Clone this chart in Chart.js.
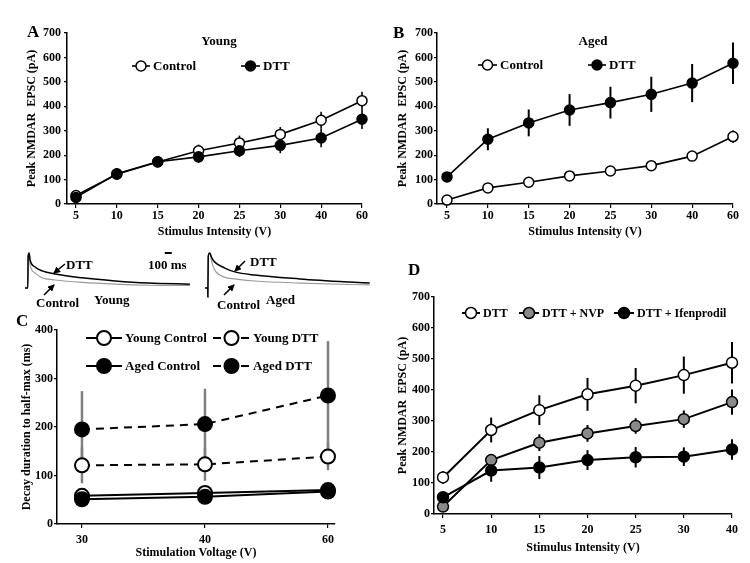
<!DOCTYPE html>
<html>
<head>
<meta charset="utf-8">
<title>NMDAR EPSC figure</title>
<script src="https://cdn.jsdelivr.net/npm/chart.js@4.4.1/dist/chart.umd.min.js"></script>
<style>
  html, body { margin: 0; padding: 0; background: #fff; }
  #fig { position: relative; width: 750px; height: 563px; overflow: hidden;
         font-family: "Liberation Serif", "Times New Roman", serif; font-weight: bold; color: #000; }
  #fig canvas { position: absolute; }
  #fig svg { position: absolute; left: 0; top: 0; }
  .lbl { position: absolute; white-space: nowrap; line-height: 1; transform: translateY(-50%); font-size: 13px; }
  .lbl.c { transform: translate(-50%, -50%); }
  .letter { font-size: 17px; }
</style>
</head>
<body>
<div id="fig">
  <canvas id="chartA" width="375" height="245" style="left:0;top:0"></canvas>
  <canvas id="chartB" width="375" height="245" style="left:375px;top:0"></canvas>
  <canvas id="traceYoung" width="180" height="60" style="left:20px;top:245px"></canvas>
  <canvas id="traceAged" width="180" height="60" style="left:200px;top:245px"></canvas>
  <canvas id="chartC" width="375" height="258" style="left:0;top:305px"></canvas>
  <canvas id="chartD" width="375" height="283" style="left:375px;top:280px"></canvas>

  <svg width="750" height="563">
    <defs>
      <marker id="ah" markerUnits="userSpaceOnUse" markerWidth="7" markerHeight="7" refX="6" refY="3.5" orient="auto">
        <path d="M0,0 L7,3.5 L0,7 z" fill="#000"/>
      </marker>
    </defs>
    <line x1="65" y1="264" x2="54" y2="273" stroke="#000" stroke-width="1.6" marker-end="url(#ah)"/>
    <line x1="44" y1="295" x2="54" y2="285" stroke="#000" stroke-width="1.6" marker-end="url(#ah)"/>
    <line x1="245" y1="261" x2="235" y2="271" stroke="#000" stroke-width="1.6" marker-end="url(#ah)"/>
    <line x1="224" y1="295" x2="234" y2="285" stroke="#000" stroke-width="1.6" marker-end="url(#ah)"/>
  </svg>

  <div class="lbl letter" style="left:27px;top:31px">A</div>
  <div class="lbl letter" style="left:393px;top:32px">B</div>
  <div class="lbl letter" style="left:16px;top:320px">C</div>
  <div class="lbl letter" style="left:408px;top:269px">D</div>
  <div class="lbl c" style="left:219px;top:40px">Young</div>
  <div class="lbl c" style="left:593px;top:40px">Aged</div>

  <div class="lbl" style="left:66px;top:264px">DTT</div>
  <div class="lbl" style="left:148px;top:264px">100 ms</div>
  <div class="lbl" style="left:36px;top:302px">Control</div>
  <div class="lbl" style="left:94px;top:299px">Young</div>
  <div class="lbl" style="left:250px;top:261px">DTT</div>
  <div class="lbl" style="left:217px;top:304px">Control</div>
  <div class="lbl" style="left:266px;top:299px">Aged</div>
</div>

<script>
// ---- data ----
const abLabels = ['5', '10', '15', '20', '25', '30', '40', '60'];

// A: young
const aControl = [35, 122, 172, 218, 250, 285, 343, 423];
const aControlErr = [10, 15, 20, 25, 30, 30, 35, 37];
const aDtt = [27, 124, 173, 193, 218, 240, 270, 347];
const aDttErr = [8, 15, 20, 25, 26, 32, 38, 40];

// B: aged
const bControl = [16, 66, 89, 115, 135, 157, 196, 276];
const bControlErr = [8, 8, 8, 8, 8, 10, 15, 25];
const bDtt = [111, 265, 332, 385, 415, 449, 495, 576];
const bDttErr = [20, 45, 55, 65, 65, 72, 78, 85];

// C: decay to half-max
const cLabels = ['30', '40', '60'];
const cYoungControl = [58, 64, 70];
const cYoungControlErr = [4, 4, 4];
const cAgedControl = [51, 56, 67];
const cAgedControlErr = [4, 4, 4];
const cYoungDtt = [121, 123, 139];
const cYoungDttErr = [37, 34, 28];
const cAgedDtt = [195, 206, 265];
const cAgedDttErr = [79, 73, 112];

// D: aged, DTT with antagonists
const dLabels = ['5', '10', '15', '20', '25', '30', '40'];
const dDtt = [118, 271, 335, 386, 414, 448, 488];
const dDttErr = [20, 40, 48, 53, 57, 60, 67];
const dNvp = [24, 174, 230, 260, 284, 306, 361];
const dNvpErr = [10, 15, 27, 27, 25, 28, 41];
const dIfen = [54, 140, 150, 174, 183, 185, 208];
const dIfenErr = [10, 36, 37, 32, 33, 30, 33];

// example traces (time in ms, current normalised to peak)
const youngTimes = [-40, 0, 5, 19, 33, 104, 204, 390, 778, 1250, 1720, 2320];
const youngDttTrace = [0, 0, 0.9, 1.0, 0.8, 0.6, 0.49, 0.4, 0.29, 0.2, 0.14, 0.11];
const youngControlTrace = [0, 0, 0.9, 1.0, 0.66, 0.43, 0.29, 0.23, 0.16, 0.11, 0.08, 0.07];
const agedTimes = [-40, 0, 1, 6, 29, 57, 100, 243, 386, 672, 1316, 2031, 2317];
const agedDttTrace = [0, 0, -0.26, 0.9, 1.0, 0.86, 0.74, 0.57, 0.46, 0.37, 0.26, 0.17, 0.14];
const agedControlTrace = [0, 0, -0.26, 0.9, 1.0, 0.74, 0.51, 0.31, 0.26, 0.2, 0.14, 0.1, 0.09];

const FONT = '"Liberation Serif", "Times New Roman", serif';
Chart.defaults.font.family = FONT;
Chart.defaults.font.weight = 'bold';
Chart.defaults.color = '#000';
Chart.defaults.animation = false;
Chart.defaults.plugins.legend.display = false;
Chart.defaults.plugins.tooltip.enabled = false;

// vertical error bars, drawn under the lines and markers
const errorBars = {
    id: 'errorBars',
    beforeDatasetsDraw(chart) {
        const { ctx, scales: { x, y } } = chart;
        chart.data.datasets.forEach(ds => {
            if (!ds.errors) return;
            ctx.save();
            ctx.strokeStyle = ds.errorColor;
            ctx.lineWidth = ds.errorWidth;
            ds.data.forEach((p, j) => {
                const px = x.getPixelForValue(p.x);
                ctx.beginPath();
                ctx.moveTo(px, y.getPixelForValue(p.y - ds.errors[j]));
                ctx.lineTo(px, y.getPixelForValue(p.y + ds.errors[j]));
                ctx.stroke();
            });
            ctx.restore();
        });
    }
};

// legend entries drawn as "-o- label", using each dataset's own styles
function legendFor(items, fontSize) {
    return {
        id: 'panelLegend',
        afterDraw(chart) {
            const ctx = chart.ctx;
            ctx.save();
            items.forEach(it => {
                const ds = chart.data.datasets[it.index];
                ctx.strokeStyle = ds.borderColor;
                ctx.lineWidth = ds.borderWidth;
                ctx.setLineDash(ds.borderDash || []);
                ctx.beginPath();
                ctx.moveTo(it.x0, it.y);
                ctx.lineTo(it.x1, it.y);
                ctx.stroke();
                ctx.setLineDash([]);
                ctx.beginPath();
                ctx.arc((it.x0 + it.x1) / 2, it.y, ds.pointRadius, 0, Math.PI * 2);
                ctx.fillStyle = ds.pointBackgroundColor;
                ctx.fill();
                ctx.lineWidth = ds.pointBorderWidth;
                ctx.strokeStyle = ds.pointBorderColor;
                ctx.stroke();
                ctx.fillStyle = '#000';
                ctx.font = 'bold ' + fontSize + 'px ' + FONT;
                ctx.textBaseline = 'middle';
                ctx.fillText(ds.label, it.x1 + 3, it.y + 1);
            });
            ctx.restore();
        }
    };
}

function series(label, values, errors, fill, extra) {
    return Object.assign({
        label,
        data: values.map((v, i) => ({ x: i, y: v })),
        errors,
        errorColor: '#000',
        errorWidth: 1.6,
        borderColor: '#000',
        borderWidth: 1.6,
        pointRadius: 5,
        pointHoverRadius: 5,
        pointBackgroundColor: fill,
        pointBorderColor: '#000',
        pointBorderWidth: 1.5,
        tension: 0,
        clip: false
    }, extra || {});
}

function buildScales(ax) {
    return {
        x: {
            type: 'linear',
            min: ax.xMin,
            max: ax.xMax,
            afterBuildTicks: s => { s.ticks = ax.labels.map((_, i) => ({ value: i })); },
            afterFit: s => { s.height = ax.xh; },
            grid: { display: true, drawOnChartArea: false, drawTicks: true, tickLength: 4, color: '#000', lineWidth: 1.2 },
            border: { display: true, color: '#000', width: 1.5 },
            ticks: { autoSkip: false, maxRotation: 0, padding: ax.xTickPad, font: { size: ax.tickSize },
                     callback: v => ax.labels[v] },
            title: { display: true, text: ax.xTitle, font: { size: 12 }, padding: { top: 0, bottom: ax.xTitlePad } }
        },
        y: {
            min: 0,
            max: ax.yMax,
            afterFit: s => { s.width = ax.yw; },
            grid: { display: true, drawOnChartArea: false, drawTicks: true, tickLength: 3, color: '#000', lineWidth: 1.2 },
            border: { display: true, color: '#000', width: 1.5 },
            ticks: { stepSize: 100, padding: ax.yTickPad, font: { size: ax.tickSize } },
            title: { display: true, text: ax.yTitle, font: { size: ax.yTitleSize }, padding: { top: ax.yTitlePad, bottom: 0 } }
        }
    };
}

function panel(id, datasets, ax, legendItems, legendSize) {
    return new Chart(document.getElementById(id), {
        type: 'line',
        data: { datasets },
        options: {
            responsive: false,
            events: [],
            layout: { padding: { top: ax.top, right: ax.right, left: 0, bottom: 0 } },
            scales: buildScales(ax)
        },
        plugins: [errorBars, legendFor(legendItems, legendSize)]
    });
}

function trace(id, times, dtt, control, scaleBar) {
    const pts = arr => arr.map((v, i) => ({ x: times[i], y: v }));
    const line = (data, color, width) => ({
        data, borderColor: color, borderWidth: width, pointRadius: 0,
        cubicInterpolationMode: 'monotone', clip: false
    });
    const plugins = [];
    if (scaleBar) {
        plugins.push({
            id: 'scaleBar',
            afterDraw(chart) {
                const { ctx, scales: { x, y } } = chart;
                ctx.save();
                ctx.strokeStyle = '#000';
                ctx.lineWidth = 2;
                ctx.beginPath();
                ctx.moveTo(x.getPixelForValue(scaleBar.from), y.getPixelForValue(scaleBar.level));
                ctx.lineTo(x.getPixelForValue(scaleBar.from + scaleBar.length), y.getPixelForValue(scaleBar.level));
                ctx.stroke();
                ctx.restore();
            }
        });
    }
    return new Chart(document.getElementById(id), {
        type: 'line',
        data: { datasets: [line(pts(dtt), '#000', 1.5), line(pts(control), '#999', 1.1)] },
        options: {
            responsive: false,
            events: [],
            layout: { padding: { left: 5, right: 8, top: 8, bottom: 17 } },
            scales: {
                x: { type: 'linear', display: false, min: -40, max: 2350 },
                y: { display: false, min: 0, max: 1 }
            }
        },
        plugins
    });
}

const peakTitle = 'Peak NMDAR  EPSC (pA)';

// A - young
panel('chartA', [
    series('DTT', aDtt, aDttErr, '#000'),
    series('Control', aControl, aControlErr, '#fff')
], {
    labels: abLabels, xMin: -0.22, xMax: 7, yMax: 700, top: 33, right: 13, yw: 67, xh: 41,
    xTickPad: 1, yTickPad: 3, tickSize: 12, xTitle: 'Stimulus Intensity (V)', xTitlePad: 6,
    yTitle: peakTitle, yTitleSize: 12, yTitlePad: 25
}, [
    { index: 1, x0: 132, x1: 150, y: 66 },
    { index: 0, x0: 241, x1: 260, y: 66 }
], 13);

// B - aged
panel('chartB', [
    series('DTT', bDtt, bDttErr, '#000', { errorWidth: 2 }),
    series('Control', bControl, bControlErr, '#fff', { errorWidth: 2 })
], {
    labels: abLabels, xMin: -0.245, xMax: 7, yMax: 700, top: 33, right: 17, yw: 62, xh: 41,
    xTickPad: 1, yTickPad: 1, tickSize: 12, xTitle: 'Stimulus Intensity (V)', xTitlePad: 6,
    yTitle: peakTitle, yTitleSize: 12, yTitlePad: 21
}, [
    { index: 1, x0: 103, x1: 122, y: 65 },
    { index: 0, x0: 213, x1: 231, y: 65 }
], 13);

// C - decay duration
const grey = { errorColor: '#808080', errorWidth: 2.5, pointRadius: 7, borderWidth: 2, pointBorderWidth: 2 };
panel('chartC', [
    series('Aged Control', cAgedControl, cAgedControlErr, '#000', grey),
    series('Young Control', cYoungControl, cYoungControlErr, '#fff', grey),
    series('Aged DTT', cAgedDtt, cAgedDttErr, '#000', Object.assign({ borderDash: [8, 6] }, grey)),
    series('Young DTT', cYoungDtt, cYoungDttErr, '#fff', Object.assign({ borderDash: [8, 6] }, grey))
], {
    labels: cLabels, xMin: -0.203, xMax: 2.057, yMax: 400, top: 25, right: 40, yw: 57, xh: 39,
    xTickPad: 5, yTickPad: 1, tickSize: 12, xTitle: 'Stimulation Voltage (V)', xTitlePad: 3,
    yTitle: 'Decay duration to half-max (ms)', yTitleSize: 12, yTitlePad: 20
}, [
    { index: 1, x0: 86, x1: 122, y: 33 },
    { index: 3, x0: 213, x1: 250, y: 33 },
    { index: 0, x0: 86, x1: 122, y: 61 },
    { index: 2, x0: 213, x1: 250, y: 61 }
], 13);

// D - aged, DTT + antagonists
const dStyle = { errorWidth: 2, borderWidth: 2, pointRadius: 5.5 };
panel('chartD', [
    series('DTT + Ifenprodil', dIfen, dIfenErr, '#000', dStyle),
    series('DTT + NVP', dNvp, dNvpErr, '#8a8a8a', dStyle),
    series('DTT', dDtt, dDttErr, '#fff', dStyle)
], {
    labels: dLabels, xMin: -0.187, xMax: 6, yMax: 700, top: 17, right: 18, yw: 59, xh: 49,
    xTickPad: 5, yTickPad: 1, tickSize: 12, xTitle: 'Stimulus Intensity (V)', xTitlePad: 8,
    yTitle: peakTitle, yTitleSize: 12, yTitlePad: 21
}, [
    { index: 2, x0: 87, x1: 105, y: 33 },
    { index: 1, x0: 144, x1: 164, y: 33 },
    { index: 0, x0: 239, x1: 259, y: 33 }
], 12);

// example EPSC traces
trace('traceYoung', youngTimes, youngDttTrace, youngControlTrace, { from: 1960, length: 100, level: 1.0 });
trace('traceAged', agedTimes, agedDttTrace, agedControlTrace, null);
</script>
</body>
</html>
